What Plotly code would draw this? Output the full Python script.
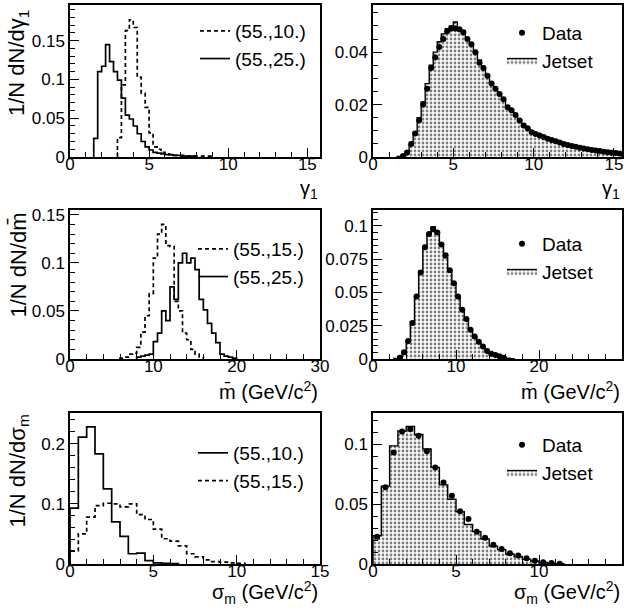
import numpy as np
import plotly.graph_objects as go

# ---------------- data ----------------
# Row 1 : gamma_1 distributions (bin width 0.25)
gamma_bin_width = 0.25
gamma_a_label = "(55.,10.)"
gamma_a_start = 3.0
gamma_a = [0.025, 0.093, 0.163, 0.177, 0.167, 0.103, 0.082, 0.064, 0.031, 0.013,
           0.010, 0.006, 0.004, 0.003, 0.002, 0.002, 0.002, 0.001, 0.001, 0.001,
           0.001, 0.001, 0.001, 0.001]
gamma_b_label = "(55.,25.)"
gamma_b_start = 1.5
gamma_b = [0.024, 0.110, 0.117, 0.145, 0.123, 0.110, 0.099, 0.076, 0.054, 0.049,
           0.040, 0.030, 0.020, 0.013, 0.009, 0.006, 0.005, 0.004, 0.003, 0.003,
           0.002, 0.002, 0.001, 0.001, 0.001, 0.001]
gamma_jetset_start = 1.5
gamma_jetset = [0.0002, 0.0008, 0.002, 0.0045, 0.0095, 0.015, 0.021, 0.028, 0.035, 0.040,
                0.044, 0.047, 0.049, 0.050, 0.0515, 0.049, 0.047, 0.0455, 0.043, 0.040,
                0.037, 0.034, 0.031, 0.0285, 0.026, 0.024, 0.0215, 0.0195, 0.0175, 0.0158,
                0.0142, 0.0125, 0.0112, 0.010, 0.0092, 0.0085, 0.0078, 0.0071, 0.0065, 0.006,
                0.0055, 0.005, 0.0046, 0.0042, 0.0038, 0.0035, 0.0032, 0.0029, 0.0026, 0.0024,
                0.0022, 0.002, 0.0018, 0.0016, 0.0014, 0.0013]
gamma_data_start = 1.75
gamma_data = [0.0004, 0.0017, 0.005, 0.009, 0.014, 0.020, 0.026, 0.034, 0.038, 0.042,
              0.045, 0.048, 0.049, 0.049, 0.0487, 0.0476, 0.045, 0.043, 0.040, 0.036,
              0.034, 0.031, 0.028, 0.026, 0.024, 0.022, 0.019, 0.0178, 0.016, 0.0139,
              0.012, 0.011, 0.0094, 0.0088, 0.0082, 0.0076, 0.007, 0.0065, 0.006, 0.0055,
              0.005, 0.0046, 0.0042, 0.0039, 0.0035, 0.0032, 0.003, 0.0027, 0.0025, 0.0023,
              0.002, 0.0018, 0.0016, 0.0015, 0.0013]

# Row 2 : mean mass distributions (bin width 0.5 GeV/c^2)
mbar_bin_width = 0.5
mbar_a_label = "(55.,15.)"
mbar_a_start = 6.0
mbar_a = [0.001, 0.002, 0.005, 0.006, 0.012, 0.028, 0.045, 0.068, 0.105, 0.130,
          0.140, 0.118, 0.117, 0.060, 0.050, 0.027, 0.020, 0.010, 0.005, 0.002]
mbar_b_label = "(55.,25.)"
mbar_b_start = 8.0
mbar_b = [0.002, 0.003, 0.004, 0.005, 0.018, 0.027, 0.050, 0.040, 0.075, 0.062,
          0.100, 0.110, 0.100, 0.105, 0.093, 0.062, 0.051, 0.037, 0.027, 0.017,
          0.005, 0.003, 0.002, 0.001]
mbar_jetset_start = 2.5
mbar_jetset = [0.0005, 0.002, 0.006, 0.014, 0.028, 0.047, 0.066, 0.083, 0.094, 0.0995,
               0.094, 0.085, 0.076, 0.066, 0.056, 0.046, 0.037, 0.029, 0.022, 0.0165,
               0.012, 0.0088, 0.0062, 0.0042, 0.0028, 0.0018, 0.0011, 0.0006, 0.0003]
mbar_data_start = 3.0
mbar_data = [0.001, 0.005, 0.0136, 0.027, 0.047, 0.065, 0.084, 0.094, 0.0975, 0.095,
             0.086, 0.078, 0.0667, 0.057, 0.047, 0.037, 0.030, 0.022, 0.017, 0.013,
             0.0094, 0.006, 0.004, 0.003, 0.002, 0.001]

# Row 3 : mass spread distributions (bin width 0.5 GeV/c^2)
sig_bin_width = 0.5
sig_a_label = "(55.,10.)"
sig_a_start = 0.0
sig_a = [0.093, 0.211, 0.228, 0.183, 0.125, 0.070, 0.046, 0.017, 0.018, 0.0055,
         0.002, 0.001, 0.0005]
sig_b_label = "(55.,15.)"
sig_b_start = 0.0
sig_b = [0.022, 0.050, 0.078, 0.097, 0.101, 0.100, 0.095, 0.100, 0.082, 0.074,
         0.058, 0.042, 0.038, 0.030, 0.017, 0.012, 0.007, 0.004, 0.003, 0.002, 0.001]
sig_jetset_start = 0.0
sig_jetset = [0.0236, 0.065, 0.0986, 0.111, 0.1147, 0.108, 0.096, 0.0806, 0.066, 0.054,
              0.0436, 0.033, 0.027, 0.0208, 0.015, 0.012, 0.0083, 0.006, 0.004, 0.0025,
              0.0013, 0.0006, 0.0002]
sig_data_start = 0.0
sig_data = [0.0228, 0.064, 0.093, 0.1106, 0.1125, 0.107, 0.094, 0.0806, 0.068, 0.057,
            0.044, 0.0375, 0.027, 0.022, 0.016, 0.0125, 0.009, 0.007, 0.0047, 0.0028,
            0.0014, 0.0008, 0.0003]

# axis titles
ytitles = ["1/N dN/dγ<sub>1</sub>", "1/N dN/dm\u0304", "1/N dN/dσ<sub>m</sub>"]
xtitles = ["γ<sub>1</sub>", "m\u0304 (GeV/c<sup>2</sup>)", "σ<sub>m</sub> (GeV/c<sup>2</sup>)"]

# ---------------- helpers ----------------
FONT = "Liberation Sans, Arial, sans-serif"
W, H = 630, 612


def px(X):
    return X / W


def py(Y):
    return 1 - Y / H


def step_xy(start, width, vals):
    vals = np.asarray(vals, float)
    edges = start + width * np.arange(len(vals) + 1)
    x = np.concatenate([[edges[0]], edges])
    y = np.concatenate([[0.0], vals, [0.0]])
    return x, y


def centers(start, width, vals):
    return start + width * (np.arange(len(vals)) + 0.5)


fig = go.Figure()

col_dom = [[px(70), px(320)], [px(373), px(622)]]
row_dom = [[py(157), py(5)], [py(359), py(210)], [py(564), py(413)]]

PATTERN = dict(shape=".", fgcolor="black", bgcolor="white", size=4, solidity=0.38)


def line_hist(axn, legend, start, width, vals, name, dash):
    x, y = step_xy(start, width, vals)
    fig.add_trace(go.Scatter(x=x, y=y, mode="lines", line_shape="hv",
                             line=dict(color="black", width=1.7, dash=dash),
                             name=name, legend=legend,
                             xaxis="x" + axn, yaxis="y" + axn))


def jetset_hist(axn, legend, start, width, vals):
    x, y = step_xy(start, width, vals)
    fig.add_trace(go.Scatter(x=x, y=y, mode="lines", line_shape="hv", fill="tozeroy",
                             fillpattern=PATTERN, fillcolor="rgba(0,0,0,0)",
                             line=dict(color="black", width=1.4),
                             name="Jetset", legend=legend, legendrank=2,
                             xaxis="x" + axn, yaxis="y" + axn))


def data_points(axn, legend, start, width, vals):
    fig.add_trace(go.Scatter(x=centers(start, width, vals), y=vals, mode="markers",
                             marker=dict(color="black", size=6, symbol="circle"),
                             name="Data", legend=legend, legendrank=1,
                             xaxis="x" + axn, yaxis="y" + axn))


# row 1
line_hist("", "legend", gamma_a_start, gamma_bin_width, gamma_a, gamma_a_label, "4px,3px")
line_hist("", "legend", gamma_b_start, gamma_bin_width, gamma_b, gamma_b_label, "solid")
jetset_hist("2", "legend2", gamma_jetset_start, gamma_bin_width, gamma_jetset)
data_points("2", "legend2", gamma_data_start, gamma_bin_width, gamma_data)
# row 2
line_hist("3", "legend3", mbar_a_start, mbar_bin_width, mbar_a, mbar_a_label, "4px,3px")
line_hist("3", "legend3", mbar_b_start, mbar_bin_width, mbar_b, mbar_b_label, "solid")
jetset_hist("4", "legend4", mbar_jetset_start, mbar_bin_width, mbar_jetset)
data_points("4", "legend4", mbar_data_start, mbar_bin_width, mbar_data)
# row 3
line_hist("5", "legend5", sig_a_start, sig_bin_width, sig_a, sig_a_label, "solid")
line_hist("5", "legend5", sig_b_start, sig_bin_width, sig_b, sig_b_label, "4px,3px")
jetset_hist("6", "legend6", sig_jetset_start, sig_bin_width, sig_jetset)
data_points("6", "legend6", sig_data_start, sig_bin_width, sig_data)

axis_common = dict(showline=True, linecolor="black", linewidth=1.5, mirror=True,
                   ticks="inside", ticklen=9, tickwidth=1.2, tickcolor="black",
                   showgrid=False, zeroline=False, automargin=False,
                   tickfont=dict(family=FONT, size=17, color="black"),
                   minor=dict(ticks="inside", ticklen=5, tickwidth=1, tickcolor="black", showgrid=False))

xranges = [[0, 15.8], [0, 15.5], [0, 30], [0, 30], [0, 15], [0, 15]]
xdt = [(5, 1), (5, 1), (10, 2), (10, 2), (5, 1), (5, 1)]
yranges = [[0, 0.196], [0, 0.058], [0, 0.155], [0, 0.112], [0, 0.251], [0, 0.126]]
ydt = [(0.05, 0.01), (0.02, 0.005), (0.05, 0.01), (0.025, 0.005), (0.1, 0.02), (0.05, 0.01)]

layout = {}
for i in range(6):
    r, c = divmod(i, 2)
    sfx = "" if i == 0 else str(i + 1)
    xa = dict(axis_common)
    xa.update(domain=col_dom[c], range=xranges[i], anchor="y" + sfx, dtick=xdt[i][0], tick0=0,
              ticklabelstandoff=-9)
    xa["minor"] = dict(axis_common["minor"], dtick=xdt[i][1])
    ya = dict(axis_common)
    ya.update(domain=row_dom[r], range=yranges[i], anchor="x" + sfx, dtick=ydt[i][0], tick0=0)
    ya["minor"] = dict(axis_common["minor"], dtick=ydt[i][1])
    layout["xaxis" + sfx] = xa
    layout["yaxis" + sfx] = ya

legend_common = dict(bgcolor="rgba(0,0,0,0)", borderwidth=0, font=dict(family=FONT, size=19, color="black"),
                     itemwidth=30, tracegroupgap=0, xanchor="left", yanchor="top", traceorder="normal")
legend_pos = {"legend": (195, 12), "legend2": (502, 14),
              "legend3": (193, 230), "legend4": (502, 225),
              "legend5": (193, 434), "legend6": (502, 426)}
for k, (lx, ly) in legend_pos.items():
    layout[k] = dict(legend_common, x=px(lx), y=py(ly))

annotations = []
ytitle_tops = [8, 211, 413]
for r in range(3):
    annotations.append(dict(text=ytitles[r], xref="paper", yref="paper", x=px(18), y=py(ytitle_tops[r]),
                            xanchor="center", yanchor="top", textangle=-90, showarrow=False,
                            font=dict(family=FONT, size=22, color="black")))
xtitle_y = [189, 390, 592]
for r in range(3):
    for xr in [320, 622]:
        annotations.append(dict(text=xtitles[r], xref="paper", yref="paper", x=px(xr), y=py(xtitle_y[r]),
                                xanchor="right", yanchor="middle", showarrow=False,
                                font=dict(family=FONT, size=20, color="black")))

fig.update_layout(**layout)
fig.update_layout(width=W, height=H, margin=dict(l=0, r=0, t=0, b=0),
                  paper_bgcolor="white", plot_bgcolor="white",
                  annotations=annotations, showlegend=True,
                  font=dict(family=FONT, color="black"))

# remove the default 8px body margin so the figure sits at the window origin
fig.write_html("out.html", config={"displayModeBar": False},
               post_script="document.body.style.margin='0px';")
